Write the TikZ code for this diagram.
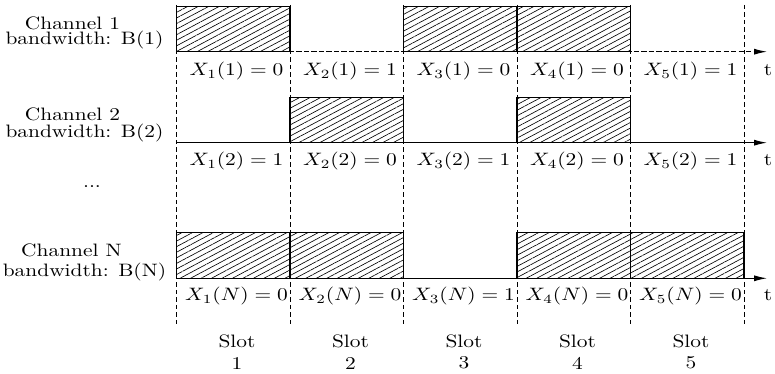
\documentclass[tikz,border=0pt]{standalone}
\usetikzlibrary{arrows.meta, patterns.meta}
\begin{document}
\begin{tikzpicture}[x=0.467pt, y=-0.467pt, >={Latex[length=6pt, width=2.8pt]},
        every node/.append style={yscale=0.84}]
        \useasboundingbox (0,0) rectangle (775,374);

        % Styles for the time slots and the busy periods
        \tikzset{
            slotline/.style={dash pattern=on 2pt off 1.5pt, line width=0.4pt},
            busy/.style={draw, line width=0.5pt, preaction={fill=white},
                pattern={Lines[angle=28, distance=2.3pt, line width=0.3pt]}},
            chname/.style={inner sep=0pt, anchor=base},
            value/.style={inner sep=0pt, anchor=base}
        }

        % Slot boundaries (dashed)
        \foreach \k in {0,...,5} {
            \coordinate (top\k) at ({176.5+113.5*\k}, 5);
            \coordinate (bot\k) at ({176.5+113.5*\k}, 325);
            \draw[slotline] (top\k) -- (bot\k);
        }

        % Time axes
        \coordinate (a1s) at (176.5, 51.7);  \coordinate (a1e) at (767, 51.7);
        \coordinate (a2s) at (176.5, 142.7); \coordinate (a2e) at (767, 142.7);
        \coordinate (aNs) at (176.5, 278.3); \coordinate (aNe) at (767, 278.3);
        \draw[->, dash pattern=on 2.5pt off 1pt, line width=0.5pt] (a1s) -- (a1e);
        \draw[->, line width=0.5pt] (a2s) -- (a2e);
        \draw[->, line width=0.5pt] (aNs) -- (aNe);

        % Busy periods of each channel
        \foreach \s in {1,3,4}
            \draw[busy] ({176.5+113.5*(\s-1)}, 6.2) rectangle ++(113.5, 45.5);
        \foreach \s in {2,4}
            \draw[busy] ({176.5+113.5*(\s-1)}, 97.2) rectangle ++(113.5, 45.5);
        \foreach \s in {1,2,4,5}
            \draw[busy] ({176.5+113.5*(\s-1)}, 232.8) rectangle ++(113.5, 45.5);

        % Channel labels
        \node[chname] (ch1) at (72.5, 29.5) {Channel 1};
        \node[chname] (bw1) at (84.5, 45) {bandwidth: B(1)};
        \node[chname] (ch2) at (72.5, 120.7) {Channel 2};
        \node[chname] (bw2) at (84.5, 138) {bandwidth: B(2)};
        \node[chname] (dots) at (92, 188) {...};
        \node[chname] (chN) at (71.5, 257) {Channel N};
        \node[chname] (bwN) at (84.5, 276.5) {bandwidth: B(N)};

        % Channel states X_k(n) under each axis
        \foreach \v [count=\s] in {0,1,0,0,1}
            \node[value] (val1\s) at ({236.5+113.5*(\s-1)}, 75.5) {$X_{\s}(1) = \v$};
        \foreach \v [count=\s] in {1,0,1,0,1}
            \node[value] (val2\s) at ({236.5+113.5*(\s-1)}, 165.5) {$X_{\s}(2) = \v$};
        \foreach \v [count=\s] in {0,0,1,0,0}
            \node[value] (valN\s) at ({236.5+113.5*(\s-1)}, 300.5) {$X_{\s}(N) = \v$};
        \node[value] (t1) at (768, 75.5) {t};
        \node[value] (t2) at (768, 165.5) {t};
        \node[value] (tN) at (768, 300.5) {t};

        % Slot numbers
        \foreach \s in {1,...,5}
            \node[align=center, inner sep=0pt] (slot\s) at ({237+113.5*(\s-1)}, 352) {Slot\\\s};

    \end{tikzpicture}
\end{document}
